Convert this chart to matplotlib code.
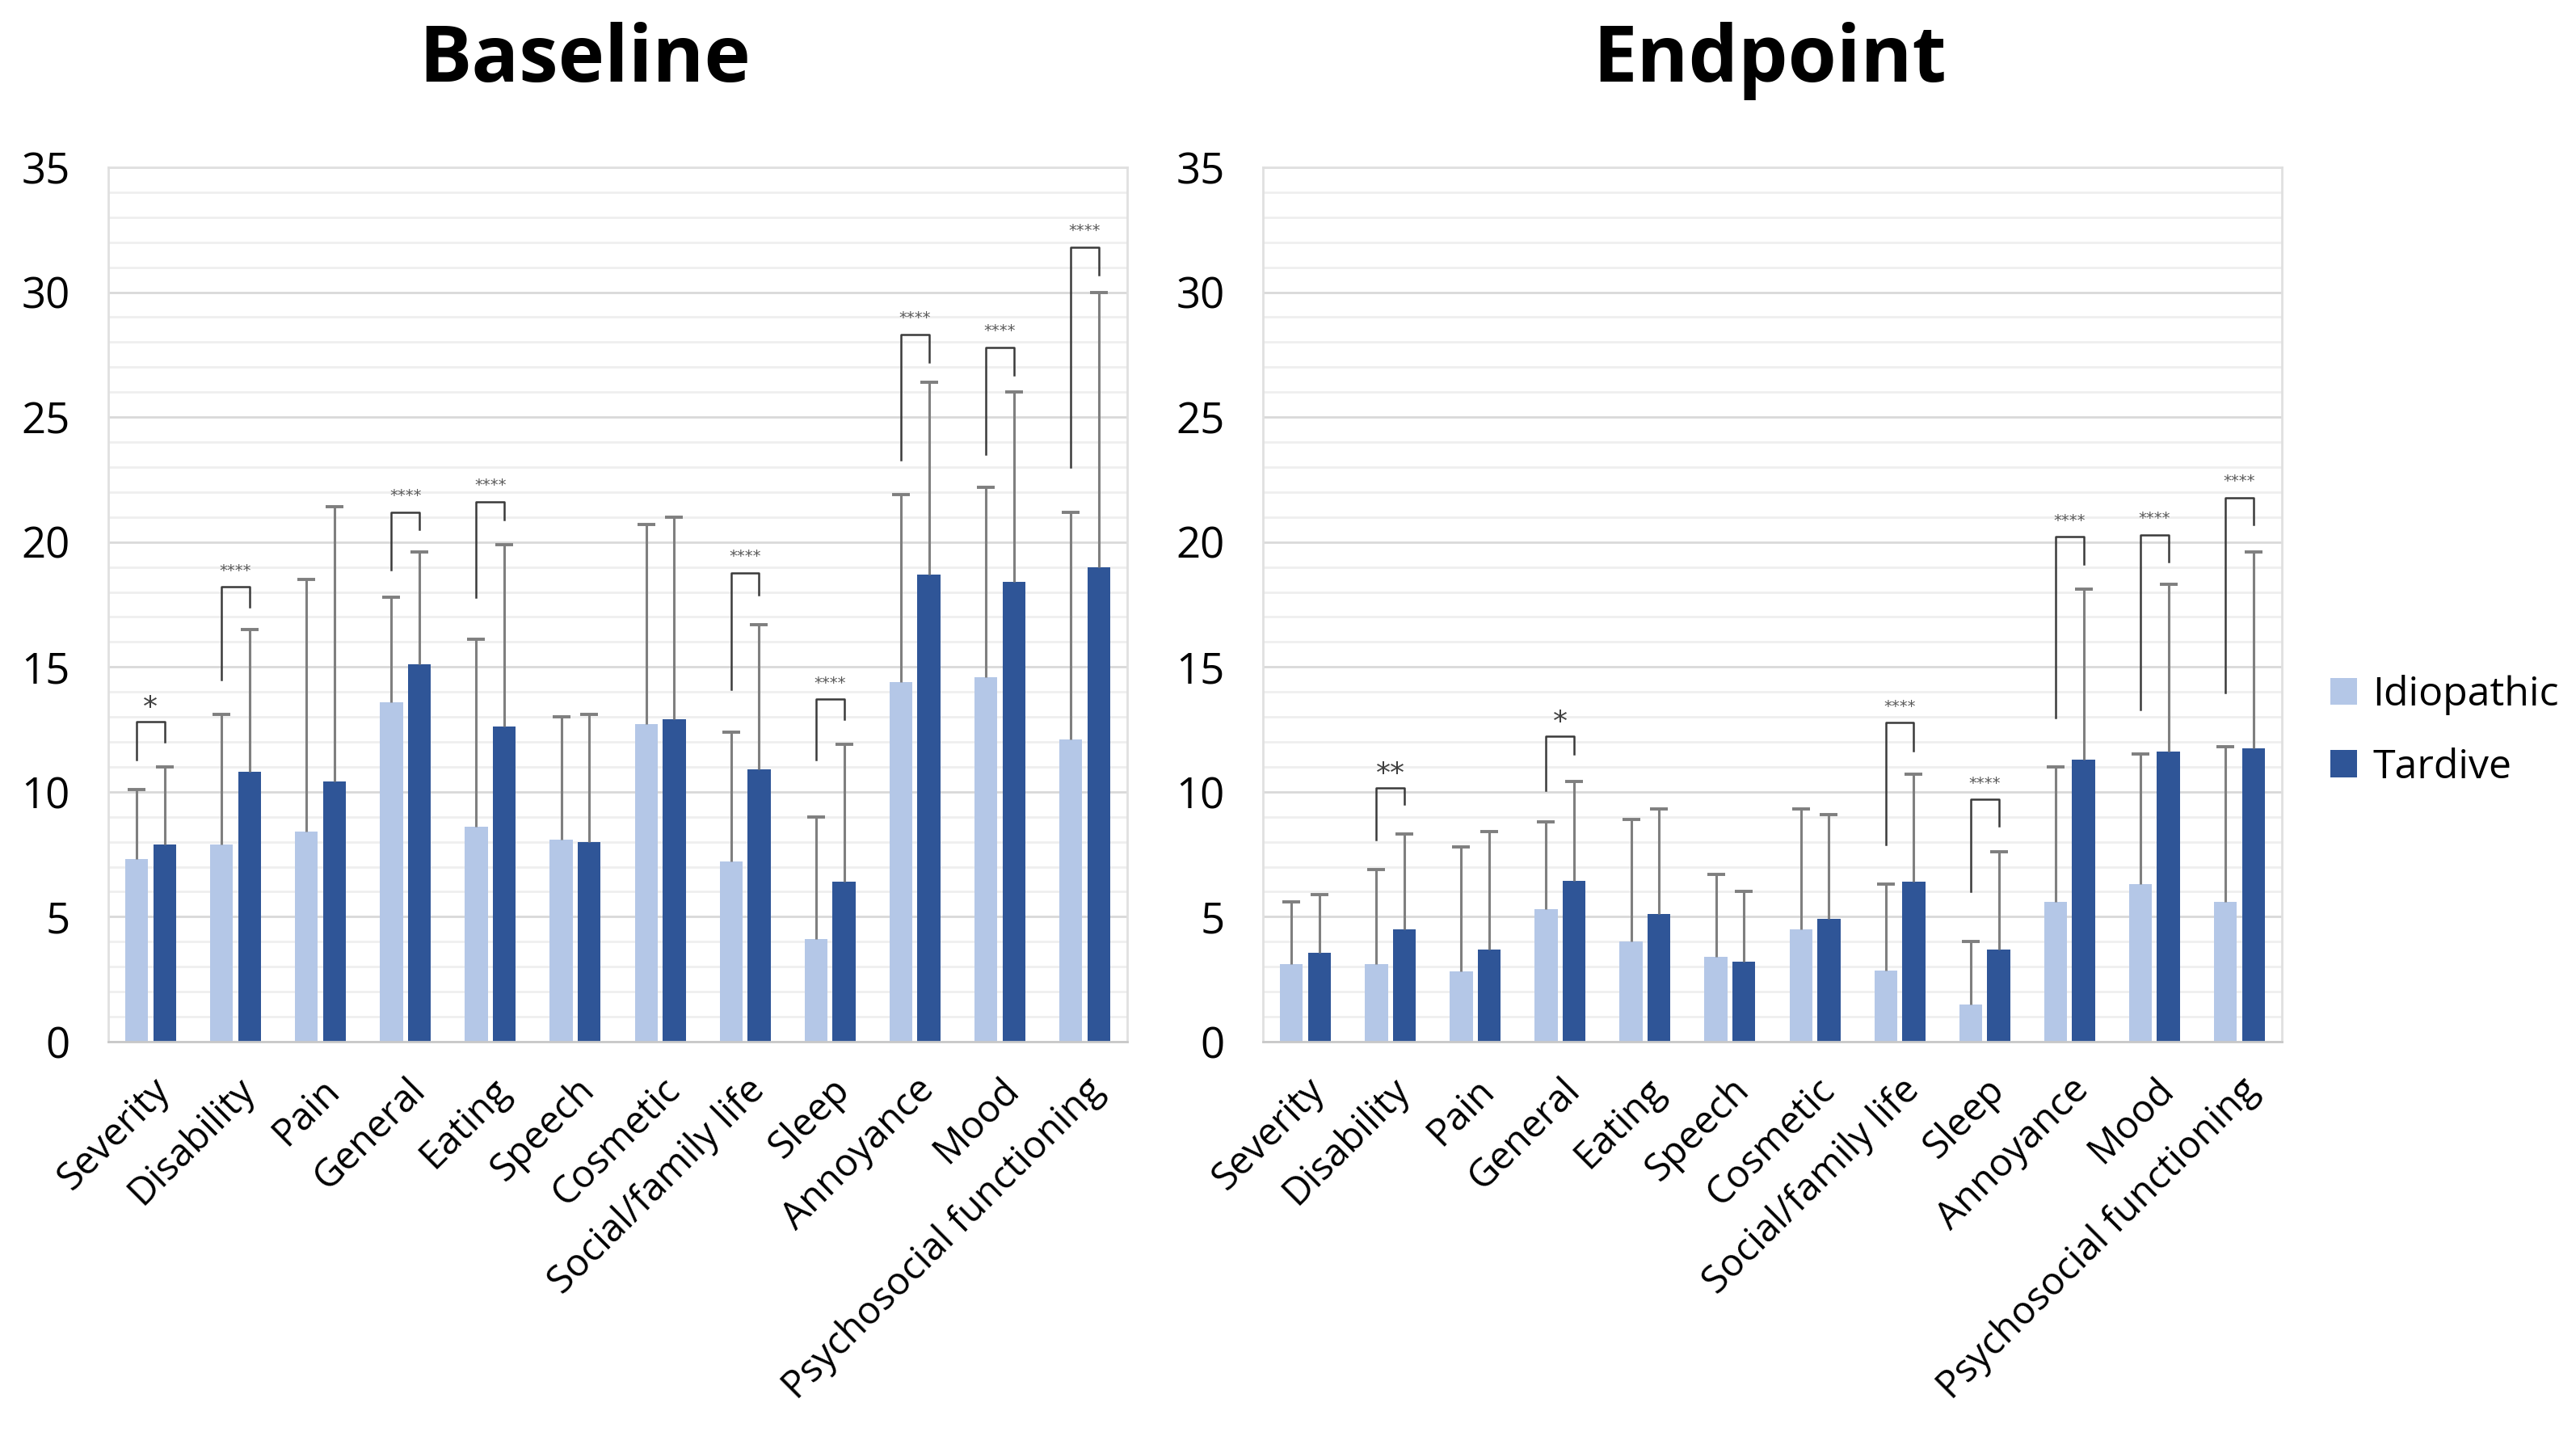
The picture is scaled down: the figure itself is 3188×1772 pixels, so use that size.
import numpy as np
import matplotlib.pyplot as plt
from matplotlib.ticker import MultipleLocator

plt.rcParams['font.family'] = ['Open Sans', 'DejaVu Sans']

categories = ["Severity", "Disability", "Pain", "General", "Eating", "Speech",
              "Cosmetic", "Social/family life", "Sleep", "Annoyance", "Mood",
              "Psychosocial functioning"]

# Baseline means and upper error bar ends
base_idio = [7.3, 7.9, 8.4, 13.6, 8.6, 8.1, 12.7, 7.2, 4.1, 14.4, 14.6, 12.1]
base_tard = [7.9, 10.8, 10.4, 15.1, 12.6, 8.0, 12.9, 10.9, 6.4, 18.7, 18.4, 19.0]
base_idio_top = [10.1, 13.1, 18.5, 17.8, 16.1, 13.0, 20.7, 12.4, 9.0, 21.9, 22.2, 21.2]
base_tard_top = [11.0, 16.5, 21.4, 19.6, 19.9, 13.1, 21.0, 16.7, 11.9, 26.4, 26.0, 30.0]

# Endpoint means and upper error bar ends
end_idio = [3.1, 3.1, 2.8, 5.3, 4.0, 3.4, 4.5, 2.85, 1.5, 5.6, 6.3, 5.6]
end_tard = [3.55, 4.5, 3.7, 6.45, 5.1, 3.2, 4.9, 6.4, 3.7, 11.3, 11.6, 11.75]
end_idio_top = [5.6, 6.9, 7.8, 8.8, 8.9, 6.7, 9.3, 6.3, 4.0, 11.0, 11.5, 11.8]
end_tard_top = [5.9, 8.3, 8.4, 10.4, 9.3, 6.0, 9.1, 10.7, 7.6, 18.1, 18.3, 19.6]

# significance brackets: category index, label, top, left leg end, right leg end
base_sig_idx = [0, 1, 3, 4, 7, 8, 9, 10, 11]
base_sig_lab = ["*", "****", "****", "****", "****", "****", "****", "****", "****"]
base_sig_top = [12.8, 18.2, 21.2, 21.6, 18.75, 13.7, 28.3, 27.8, 31.8]
base_sig_left = [11.3, 14.5, 18.9, 17.8, 14.1, 11.3, 23.3, 23.5, 23.0]
base_sig_right = [12.0, 17.4, 20.5, 20.9, 17.9, 12.9, 27.2, 26.7, 30.7]

end_sig_idx = [1, 3, 7, 8, 9, 10, 11]
end_sig_lab = ["**", "*", "****", "****", "****", "****", "****"]
end_sig_top = [10.16, 12.24, 12.76, 9.69, 20.2, 20.28, 21.76]
end_sig_left = [8.08, 10.06, 7.9, 6.0, 12.98, 13.3, 13.96]
end_sig_right = [9.5, 11.5, 11.65, 8.64, 19.13, 19.2, 20.7]

c_idio = '#B4C7E7'
c_tard = '#2F5597'
err_col = '#7F7F7F'

fig = plt.figure(figsize=(15.94, 8.86), dpi=200)
ax1 = fig.add_axes([0.042, 0.2726, 0.3956, 0.6106])
ax2 = fig.add_axes([0.4903, 0.2726, 0.3955, 0.6106])


def draw_panel(ax, title, title_x, idio, tard, idio_top, tard_top,
               sig_idx, sig_lab, sig_top, sig_left, sig_right):
    x = np.arange(len(categories))
    off = 0.165
    w = 0.27
    ax.bar(x - off, idio, w, color=c_idio, label='Idiopathic', zorder=2)
    ax.bar(x + off, tard, w, color=c_tard, label='Tardive', zorder=2)
    # upper-only error bars with a cap at the top end
    for xs, lo, hi in [(x - off, idio, idio_top), (x + off, tard, tard_top)]:
        ax.vlines(xs, lo, hi, color=err_col, lw=1.1, zorder=3)
        ax.plot(xs, hi, ls='none', marker='_', ms=8, mew=1.4, color=err_col, zorder=3)

    for i, lab, top, yl, yr in zip(sig_idx, sig_lab, sig_top, sig_left, sig_right):
        ax.plot([i - off, i - off, i + off, i + off], [yl, top, top, yr],
                color='#3A3A3A', lw=0.9, zorder=4)
        if len(lab) >= 3:
            ax.text(i, top + 0.35, lab, ha='center', va='bottom', fontsize=7,
                    color='#595959', family='DejaVu Sans')
        else:
            ax.text(i, top + 0.0, lab, ha='center', va='bottom', fontsize=13,
                    color='#404040', family='DejaVu Sans')

    ax.set_ylim(0, 35)
    ax.set_xlim(-0.5, len(categories) - 0.5)
    ax.yaxis.set_major_locator(MultipleLocator(5))
    ax.yaxis.set_minor_locator(MultipleLocator(1))
    ax.grid(axis='y', which='major', color='#D9D9D9', lw=1.0, zorder=0)
    ax.grid(axis='y', which='minor', color='#EFEFEF', lw=1.0, zorder=0)
    ax.set_axisbelow(True)
    for s in ax.spines.values():
        s.set_color('#E0E0E0')
        s.set_linewidth(1.0)
    ax.spines['bottom'].set_color('#C8C8C8')
    ax.tick_params(axis='both', which='both', length=0)
    ax.tick_params(axis='y', labelsize=19, pad=17)
    ax.tick_params(axis='x', pad=13)
    ax.set_xticks(x)
    ax.set_xticklabels(categories, rotation=45, ha='right', rotation_mode='anchor',
                       fontsize=17)
    ax.set_title(title, fontsize=35, fontweight='bold', pad=38, x=title_x)


draw_panel(ax1, "Baseline", 0.468, base_idio, base_tard, base_idio_top, base_tard_top,
           base_sig_idx, base_sig_lab, base_sig_top, base_sig_left, base_sig_right)
draw_panel(ax2, "Endpoint", 0.497, end_idio, end_tard, end_idio_top, end_tard_top,
           end_sig_idx, end_sig_lab, end_sig_top, end_sig_left, end_sig_right)

ax2.legend(loc='center left', bbox_to_anchor=(1.012, 0.355), frameon=False,
           fontsize=18, handlelength=0.65, handleheight=0.65, handletextpad=0.4,
           labelspacing=0.8)

fig.savefig('out.png', dpi=200)
